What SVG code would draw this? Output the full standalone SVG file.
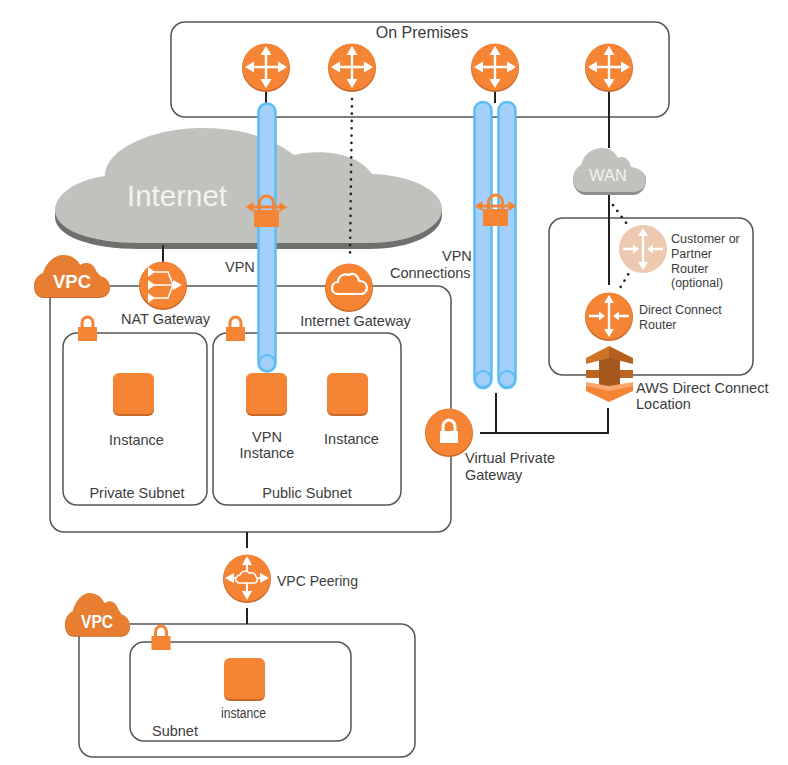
<svg xmlns="http://www.w3.org/2000/svg" xmlns:xlink="http://www.w3.org/1999/xlink" width="788" height="765" viewBox="0 0 788 765">
<style>
text{font-family:"Liberation Sans",Arial,sans-serif;font-size:14.5px;fill:#3c3c3c}
.m{text-anchor:middle}
.s{font-size:12.5px}
.box{fill:#fff;stroke:#555;stroke-width:1.5}
.sub{fill:none;stroke:#555;stroke-width:1.5}
.ln{fill:none;stroke:#222;stroke-width:2}
.dot{fill:none;stroke:#222;stroke-width:2.600;stroke-linecap:round;stroke-dasharray:.1 7.2}
.tube{fill:#a3d0fb;stroke:#5cbcf4;stroke-width:2.500}
.end{fill:#a3d0fb;stroke:#5cbcf4;stroke-width:2}
.o{fill:#f58534}
.os{fill:#c8682a}
.w{fill:none;stroke:#fff;stroke-width:2.400}
.wf{fill:#fff}
</style>
<defs>
<g id="circle"><circle cx="0" cy="1" r="24" class="os"/><circle r="23.500" class="o"/></g>
<g id="router4"><use xlink:href="#circle"/>
<path class="w" d="M-15 0H15M0-15V15"/>
<path class="wf" d="M-21 0l9-5.500v11zM21 0l-9-5.500v11zM0-21l-5.500 9h11zM0 21l-5.500-9h11z"/></g>
<g id="routerIn"><path class="w" d="M0-14V14"/><path class="wf" d="M0-21l-5 8h10zM0 21l-5-8h10z"/>
<path class="w" d="M-20 0H-8M20 0H8"/><path class="wf" d="M-4 0l-6-4.500v9zM4 0l6-4.500v9z"/></g>
<g id="square"><rect x="0" y="2" width="41" height="41" rx="6" fill="#c8682a"/><rect width="41" height="41" rx="6" class="o"/></g>
<g id="lock"><path d="M-5.500-6V-11a5.500 6 0 0 1 11 0V-6" fill="none" stroke="#f58534" stroke-width="3"/><rect x="-9.500" y="-7" width="19" height="14" class="o"/></g>
<g id="lockArrow"><path d="M-7 3V-4a7 7 0 0 1 14 0V3" fill="none" stroke="#f58534" stroke-width="3"/><rect x="-12.500" y="3" width="25" height="17" class="o"/>
<path d="M-15 0H15" stroke="#f58534" stroke-width="3"/><path d="M-21 0l8-5v10zM21 0l-8-5v10z" class="o"/></g>
<path id="vpcCloud" d="M10 42C3 42 0 36 0 31C0 24 4 20 9 18C12 8 20 0 29 0C38 0 44 5 46 10C52 6 60 8 62 16C64 18 66 20 66 21C72 22 76 27 76 32C76 38 71 42 65 42Z"/>
</defs>

<g id="on-premises"><rect class="box" x="171" y="22" width="498" height="95" rx="14"/><text class="m" x="422" y="38" style="font-size:16px">On Premises</text></g>

<g id="internet">
<path fill="#6f706d" d="M55 210V217C55 236 90 249 140 249H370C410 249 442 234 442 215V209Z"/>
<path fill="#c1c1bd" d="M55 210C55 195 75 180 105 176C105 150 150 128 203 128C245 128 275 140 294 155C315 150 355 150 372 174C410 175 442 190 442 209C442 228 410 243 370 243H140C90 243 55 230 55 210Z"/>
<text class="m" x="177" y="206" style="font-size:29.500px;fill:#f2f2f0">Internet</text>
</g>

<g id="vpc-main"><rect class="box" x="50" y="286" width="401" height="246" rx="14"/></g>
<g id="private-subnet"><rect class="sub" x="63" y="333" width="144" height="172" rx="14"/><text class="m" x="137" y="498">Private Subnet</text></g>
<g id="public-subnet"><rect class="sub" x="213" y="333" width="188" height="172" rx="14"/><text class="m" x="307" y="498">Public Subnet</text></g>
<g id="dc-box"><rect class="box" x="549" y="218" width="204" height="157" rx="14"/></g>
<g id="vpc-second"><rect class="box" x="79" y="624" width="336" height="133" rx="14"/></g>
<g id="subnet"><rect class="sub" x="130" y="642" width="221" height="99" rx="14"/><text x="152" y="736">Subnet</text></g>

<g id="connectors">
<path class="ln" d="M266 91V103M495 91V103M609 91V148M609 195V285M163 245V262"/>
<path class="ln" d="M480 433H608V408M496 393V433"/>
<path class="ln" d="M247 532V548M247 608V624"/>
<path class="dot" d="M352 99L350 256"/>
<path class="dot" d="M613 205L627 224M632 268L620 288"/>
</g>

<g id="vpn-tube-1"><rect class="tube" x="258.500" y="103.500" width="17" height="268" rx="8.500"/><circle class="end" cx="267" cy="363" r="8"/></g>
<g id="vpn-tube-2"><rect class="tube" x="474.500" y="102" width="17" height="286" rx="8.500"/><circle class="end" cx="483" cy="379" r="8"/></g>
<g id="vpn-tube-3"><rect class="tube" x="498.500" y="102" width="17" height="286" rx="8.500"/><circle class="end" cx="507" cy="379" r="8"/></g>

<g id="router-1"><use xlink:href="#router4" x="266" y="67"/></g>
<g id="router-2"><use xlink:href="#router4" x="352" y="67"/></g>
<g id="router-3"><use xlink:href="#router4" x="495" y="67"/></g>
<g id="router-4"><use xlink:href="#router4" x="609" y="67"/></g>
<g id="vpn-lock-1"><use xlink:href="#lockArrow" x="266.500" y="207"/></g>
<g id="vpn-lock-2"><use xlink:href="#lockArrow" x="495.500" y="206"/></g>

<g id="wan"><path d="M586 199C577 199 573 190 573 184L573 180L646 180V184C646 192 641 199 633 199Z" fill="#8f908c" transform="translate(0 -4)"/><path d="M586 192C577 192 573 186 573 179C573 172 577 167 581 165C583 155 592 148 602 148C610 148 615 152 618 158C624 155 630 160 631 167C640 168 646 173 646 179C646 187 641 192 633 192Z" fill="#c1c1bd"/><text class="m" x="608" y="181" style="font-size:16.500px;fill:#f2f2f0">WAN</text></g>

<g id="customer-router"><circle cx="643" cy="249" r="24" fill="#ecc9b0"/><use xlink:href="#routerIn" x="643" y="249"/><text class="s" x="671" y="243">Customer or</text><text class="s" x="671" y="258">Partner</text><text class="s" x="671" y="273">Router</text><text class="s" x="671" y="287">(optional)</text></g>
<g id="dc-router"><use xlink:href="#circle" x="609" y="316"/><use xlink:href="#routerIn" x="609" y="316"/><text class="s" x="639" y="314">Direct Connect</text><text class="s" x="639" y="329">Router</text></g>

<g id="dc-location">
<path fill="#a5591f" d="M599 356H620V390H599Z"/>
<path fill="#f58534" d="M586 385L609 389L633 385V391L609 402L586 391Z"/>
<path fill="#f7a76f" d="M586 382L609 386L633 382V386L609 391L586 386Z"/>
<path fill="#bd6420" d="M586 370H599V378H586ZM620 370H633V378H620Z"/>
<path fill="#cf7426" d="M609 346L586 358V364L609 358Z"/>
<path fill="#b5601f" d="M609 346L633 358V364L609 358Z"/>
<text x="636" y="393">AWS Direct Connect</text><text x="636" y="409">Location</text>
</g>

<g id="vpc-cloud-main"><use xlink:href="#vpcCloud" x="34" y="256" fill="#c8682a"/><use xlink:href="#vpcCloud" x="34" y="255" fill="#e87e32"/><text x="53" y="288" textLength="38" lengthAdjust="spacingAndGlyphs" style="font-size:19px;font-weight:bold;fill:#fff">VPC</text></g>

<g id="nat-gateway"><use xlink:href="#circle" x="163" y="285"/>
<path d="M150 272H168L173 285H150M150 298H168L173 285" fill="none" stroke="#fff" stroke-width="1.500"/><path class="wf" d="M182 285l-9-5v10zM148 267l7 5-7 5zM148 280l7 5-7 5zM148 293l7 5-7 5z"/>
<text class="m" x="165.500" y="324">NAT Gateway</text></g>

<g id="internet-gateway"><use xlink:href="#circle" x="349" y="287"/><path d="M338 294C334 294 332 291 332 288C332 285 334 282 338 282C338 276 344 273 349 275C353 272 358 275 359 281C364 281 367 284 367 288C367 291 364 294 361 294Z" fill="none" stroke="#fff" stroke-width="2.200"/><text class="m" x="355.500" y="326">Internet Gateway</text></g>

<g id="lock-private"><use xlink:href="#lock" x="87.500" y="334"/></g>
<g id="lock-public"><use xlink:href="#lock" x="235.500" y="334"/></g>
<g id="lock-subnet"><use xlink:href="#lock" x="161" y="643"/></g>

<g id="instance-private"><use xlink:href="#square" x="113" y="373"/><text class="m" x="136.500" y="445">Instance</text></g>
<g id="instance-vpn"><use xlink:href="#square" x="246" y="373"/><text class="m" x="267" y="442">VPN</text><text class="m" x="267" y="458">Instance</text></g>
<g id="instance-public"><use xlink:href="#square" x="327" y="373"/><text class="m" x="351.500" y="444">Instance</text></g>

<g id="vpn-label"><text x="225" y="272">VPN</text></g>
<g id="vpn-connections-label"><text x="442" y="261">VPN</text><text x="390" y="278">Connections</text></g>

<g id="vgw"><use xlink:href="#circle" x="449" y="432"/><path d="M443 432V427a6 7 0 0 1 12 0V432" fill="none" stroke="#fff" stroke-width="3"/><rect x="440" y="431" width="18" height="12" class="wf"/><text x="465" y="463">Virtual Private</text><text x="465" y="480">Gateway</text></g>

<g id="vpc-peering"><use xlink:href="#circle" x="247" y="578"/>
<path d="M247 563V593M232 578H262" fill="none" stroke="#fff" stroke-width="2"/>
<path class="wf" d="M247 556l-5 9h10zM247 600l-5-9h10zM225 578l9-5v10zM269 578l-9-5v10z"/>
<path d="M240 583C236 583 235 580 236 578C237 576 239 575 240 575C241 571 247 570 249 573C253 572 256 574 256 577C258 578 258 583 254 583Z" fill="#f58534" stroke="#fff" stroke-width="1.500"/>
<text x="277" y="586" style="font-size:14px">VPC Peering</text></g>

<g id="vpc-cloud-second"><use xlink:href="#vpcCloud" transform="translate(65 594) scale(.855 1.02)" fill="#c8682a"/><use xlink:href="#vpcCloud" transform="translate(65 593) scale(.855 1.02)" fill="#e87e32"/><text x="81" y="628" textLength="32" lengthAdjust="spacingAndGlyphs" style="font-size:19px;font-weight:bold;fill:#fff">VPC</text></g>

<g id="instance-subnet"><use xlink:href="#square" x="224" y="658"/><text class="m" x="243.500" y="718" textLength="45" lengthAdjust="spacingAndGlyphs" style="font-size:14px">instance</text></g>
</svg>
